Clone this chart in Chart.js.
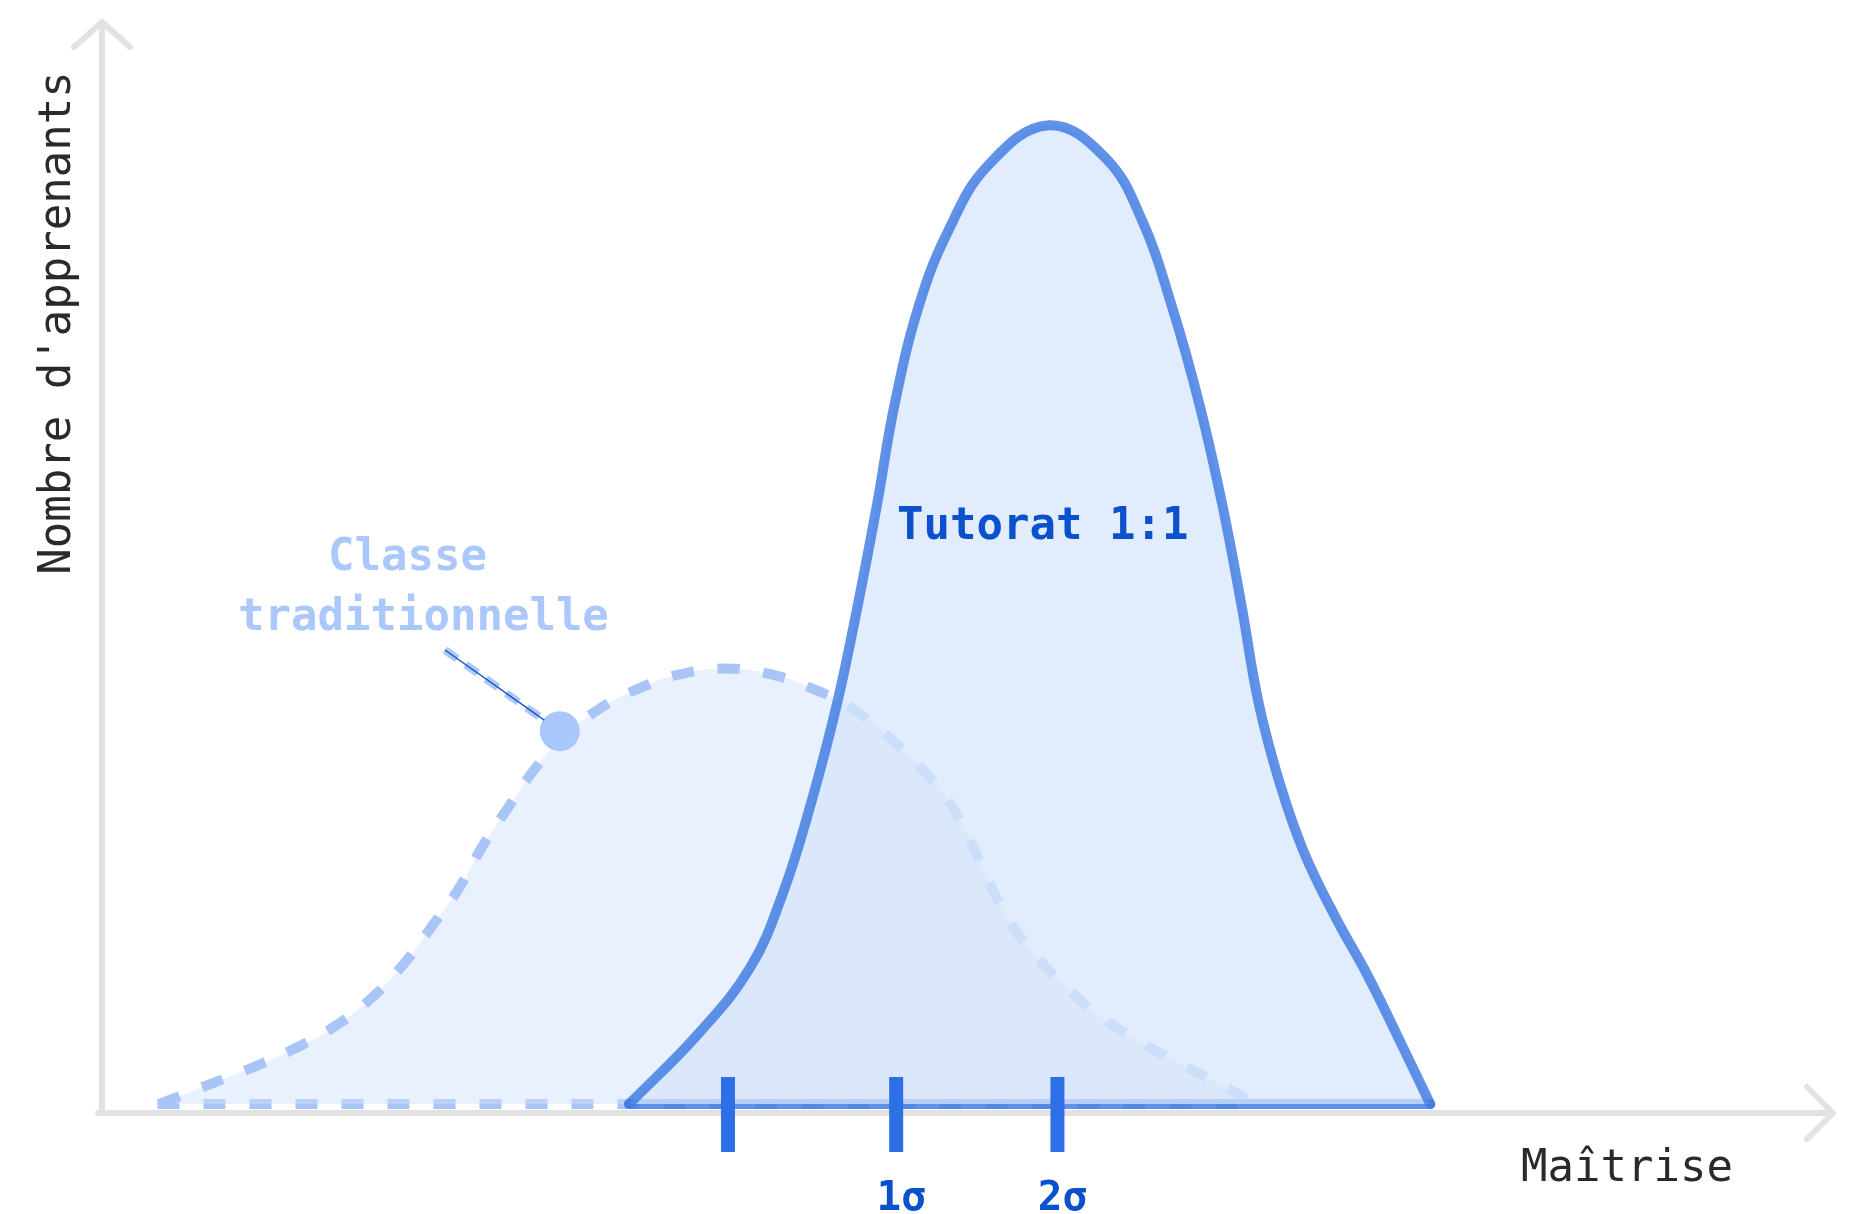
<!DOCTYPE html>
<html>
<head>
<meta charset="utf-8">
<script src="https://cdn.jsdelivr.net/npm/chart.js@4.4.1/dist/chart.umd.min.js"></script>
<style>
  html, body { margin: 0; padding: 0; background: #ffffff; }
  #wrap { width: 1856px; height: 1214px; }
</style>
</head>
<body>
<div id="wrap"><canvas id="chart" width="1856" height="1214"></canvas></div>
<script>
"use strict";

// x: mastery (0-100), y: number of learners (peak of 1:1 tutoring = 100)
const tutoratX = [30.4, 34.4, 37.4, 39.3, 40.9, 42.4, 43.6, 44.7, 45.7, 47.1, 48.8, 51.1, 54.6,
                  57.9, 60.0, 61.7, 63.3, 64.6, 65.7, 66.7, 67.9, 69.3, 71.1, 73.0, 74.7, 76.6];
const tutoratY = [0, 7.2, 14.0, 21.7, 30.8, 41.0, 51.1, 61.3, 71.4, 81.5, 89.2, 95.9, 100,
                  96.6, 90.2, 81.5, 71.4, 61.3, 51.1, 41.0, 32.9, 25.8, 19.2, 13.1, 7.0, 0];

const classeX = [3.3, 5.6, 8.5, 10.8, 13.3, 15.4, 17.3, 19.0, 20.6, 22.0, 23.5, 24.9, 26.4, 28.7, 31.0,
                 33.3, 36.0, 38.6, 40.9, 43.2, 45.3, 47.2, 48.8, 50.1, 51.2, 52.4, 54.0, 55.8, 57.7, 59.9, 62.2, 64.4, 66.6];
const classeY = [0, 1.6, 3.6, 5.4, 7.8, 10.6, 14.1, 18.1, 22.1, 26.5, 30.5, 34.1, 37.2, 40.4, 42.5,
                 43.9, 44.5, 43.9, 42.5, 40.5, 37.6, 34.4, 31.0, 26.8, 22.5, 18.5, 14.8, 11.6, 8.8, 6.3, 4.1, 2.1, 0];

const classeBaseX = [3.2, 66.6];
const tutoratBaseX = [30.4, 76.6];

const markerX = [26.4];
const markerY = [38.1];

const sigmaTicks = [36.1, 45.8, 55.1];
const sigmaLabels = ["", "1σ", "2σ"];

const xLabel = "Maîtrise";
const yLabel = "Nombre d'apprenants";
const tutoratLabel = "Tutorat 1:1";
const classeLabel = ["Classe", "traditionnelle"];

function toPoints(xs, ys) {
    let pts = [];
    for (let i = 0; i < xs.length; i++) {
        pts.push({x: xs[i], y: ys[i]});
    }
    return pts;
}

const mono = "'DejaVu Sans Mono', 'Liberation Mono', monospace";

const decor = {
    id: "decor",
    beforeDatasetsDraw(chart) {
        const ctx = chart.ctx;
        const a = chart.chartArea;
        ctx.save();
        ctx.strokeStyle = "#e2e2e2";
        ctx.lineWidth = 6;
        ctx.lineCap = "round";
        ctx.lineJoin = "round";
        // y axis with arrow
        ctx.beginPath();
        ctx.moveTo(a.left, a.bottom);
        ctx.lineTo(a.left, a.top + 2);
        ctx.moveTo(a.left - 28, a.top + 27);
        ctx.lineTo(a.left, a.top + 2);
        ctx.lineTo(a.left + 28, a.top + 27);
        ctx.stroke();
        // x axis with arrow
        ctx.beginPath();
        ctx.moveTo(a.left - 4, a.bottom);
        ctx.lineTo(a.right - 3, a.bottom);
        ctx.moveTo(a.right - 29, a.bottom - 26);
        ctx.lineTo(a.right - 3, a.bottom);
        ctx.lineTo(a.right - 29, a.bottom + 26);
        ctx.stroke();
        ctx.restore();
    },
    afterDatasetsDraw(chart) {
        const ctx = chart.ctx;
        const xs = chart.scales.x;
        const ys = chart.scales.y;
        const base = ys.getPixelForValue(0);
        ctx.save();

        // sigma ticks
        ctx.strokeStyle = "#2f6fe6";
        ctx.lineWidth = 14;
        ctx.lineCap = "butt";
        for (let t of sigmaTicks) {
            const px = xs.getPixelForValue(t);
            ctx.beginPath();
            ctx.moveTo(px, base - 27);
            ctx.lineTo(px, base + 48);
            ctx.stroke();
        }
        ctx.fillStyle = "#0b50cc";
        ctx.font = "bold 41px " + mono;
        ctx.textAlign = "center";
        ctx.textBaseline = "alphabetic";
        for (let i = 0; i < sigmaTicks.length; i++) {
            if (sigmaLabels[i]) {
                ctx.fillText(sigmaLabels[i], xs.getPixelForValue(sigmaTicks[i]) + 5, base + 106);
            }
        }

        // pointer from label to the marker
        const mx = xs.getPixelForValue(markerX[0]);
        const my = ys.getPixelForValue(markerY[0]);
        const sx = 445, sy = 650;
        const ang = Math.atan2(my - sy, mx - sx);
        const ex = mx - Math.cos(ang) * 19;
        const ey = my - Math.sin(ang) * 19;
        ctx.strokeStyle = "#abc8f8";
        ctx.lineWidth = 8;
        ctx.setLineDash([15, 10]);
        ctx.beginPath();
        ctx.moveTo(sx, sy);
        ctx.lineTo(ex, ey);
        ctx.stroke();
        ctx.setLineDash([]);
        ctx.strokeStyle = "#1a55c8";
        ctx.lineWidth = 1.5;
        ctx.beginPath();
        ctx.moveTo(sx, sy);
        ctx.lineTo(ex, ey);
        ctx.stroke();

        // series labels
        ctx.textAlign = "left";
        ctx.font = "bold 44px " + mono;
        ctx.fillStyle = "#0b50cc";
        ctx.fillText(tutoratLabel, 897, 539);
        ctx.fillStyle = "#aac8fb";
        ctx.fillText(classeLabel[0], 328, 570);
        ctx.fillText(classeLabel[1], 238, 630);

        // axis titles
        ctx.font = "44px " + mono;
        ctx.fillStyle = "#2a2a2a";
        ctx.fillText(xLabel, 1521, 1181);
        ctx.translate(70, 323);
        ctx.rotate(-Math.PI / 2);
        ctx.textAlign = "center";
        ctx.fillText(yLabel, 0, 0);
        ctx.restore();
    }
};

const ctx = document.getElementById("chart").getContext("2d");
const myChart = new Chart(ctx, {
    type: "line",
    data: {
        datasets: [{
            label: "marker",
            data: toPoints(markerX, markerY),
            showLine: false,
            pointRadius: 20,
            pointBackgroundColor: "#a8c7fa",
            pointBorderWidth: 0,
            order: 0
        }, {
            label: "Tutorat 1:1",
            data: toPoints(tutoratX, tutoratY),
            borderColor: "rgba(62,122,226,0.82)",
            borderWidth: 10,
            borderCapStyle: "round",
            backgroundColor: "rgba(215,229,251,0.75)",
            fill: "origin",
            tension: 0.4,
            pointRadius: 0,
            order: 1
        }, {
            label: "Tutorat base",
            data: toPoints(tutoratBaseX, [0, 0]),
            borderColor: "rgba(62,122,226,0.82)",
            borderWidth: 10,
            borderCapStyle: "round",
            fill: false,
            pointRadius: 0,
            order: 1
        }, {
            label: "Classe traditionnelle",
            data: toPoints(classeX, classeY),
            borderColor: "#a9c5f6",
            borderWidth: 10,
            borderDash: [22, 24],
            borderCapStyle: "butt",
            backgroundColor: "rgba(205,224,251,0.45)",
            fill: "origin",
            tension: 0.4,
            pointRadius: 0,
            order: 2
        }, {
            label: "Classe base",
            data: toPoints(classeBaseX, [0, 0]),
            borderColor: "#a9c5f6",
            borderWidth: 10,
            borderDash: [22, 24],
            borderCapStyle: "butt",
            fill: false,
            pointRadius: 0,
            order: 2
        }]
    },
    options: {
        responsive: false,
        animation: false,
        layout: {
            padding: {left: 102, right: 16, top: 12, bottom: 101}
        },
        scales: {
            x: {type: "linear", min: 0, max: 100, display: false},
            y: {type: "linear", min: -0.91, max: 110.75, display: false}
        },
        plugins: {
            legend: {display: false},
            tooltip: {enabled: false}
        }
    },
    plugins: [decor]
});
</script>
</body>
</html>
